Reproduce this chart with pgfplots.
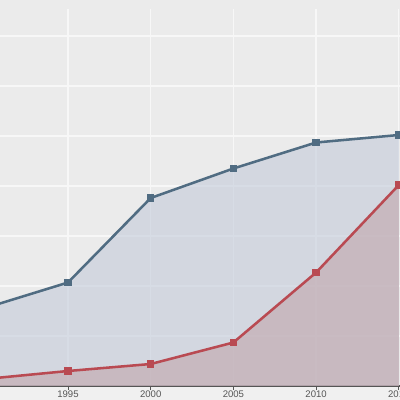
\documentclass[border=0pt]{standalone}
\usepackage{pgfplots}
\pgfplotsset{compat=1.18}
\usepackage{fontspec}
\setmainfont{Liberation Sans}
\definecolor{bgc}{HTML}{EBEBEB}
\definecolor{pagec}{HTML}{F0F0F0}
\definecolor{gridc}{HTML}{F7F7F7}
\definecolor{blueline}{HTML}{506C82}
\definecolor{bluefill}{HTML}{C3CBDA}
\definecolor{redline}{HTML}{B94A52}
\definecolor{redfill}{HTML}{C1A6AC}
\definecolor{tickc}{HTML}{555555}
\begin{document}
\begin{tikzpicture}
\begin{axis}[
  set layers,
  clip mode=individual,
  x=0.4135cm, y=1.25cm,
  xmin=1989, xmax=2016, ymin=0, ymax=7.54,
  axis x line*=bottom, axis y line*=left,
  x axis line style={draw=tickc, line width=0.9pt},
  y axis line style={draw=none},
  xtick={1990,1995,...,2015},
  ytick={0,1,...,7},
  yticklabels={},
  ytick style={draw=none},
  xtick style={draw=tickc, line width=0.5pt},
  tick align=outside, major tick length=2.5pt,
  grid=major,
  major grid style={draw=gridc, line width=0.9pt},
  axis background/.style={fill=bgc},
  xticklabel style={font=\fontsize{6.8}{7}\selectfont, text=tickc, inner sep=0pt, yshift=-1pt},
  /pgf/number format/1000 sep={},
  /pgf/number format/assume math mode=true,
]
\begin{pgfonlayer}{axis background}
 \fill[pagec] (axis cs:1989,-0.6) rectangle (axis cs:2016,0);
 \fill[bgc] (axis cs:1989,7.54) rectangle (axis cs:2016,8);
\end{pgfonlayer}
\addplot[draw=none, fill=bluefill, fill opacity=0.6, forget plot]
  coordinates {(1990,1.56) (1995,2.07) (2000,3.76) (2005,4.35) (2010,4.87) (2015,5.02)} \closedcycle;
\addplot[draw=none, fill=redfill, fill opacity=0.6, forget plot]
  coordinates {(1990,0.14) (1995,0.30) (2000,0.44) (2005,0.87) (2010,2.27) (2015,4.02)} \closedcycle;
\addplot[blueline, line width=1.8pt, mark=square*, mark size=1.7pt]
  coordinates {(1990,1.56) (1995,2.07) (2000,3.76) (2005,4.35) (2010,4.87) (2015,5.02)};
\addplot[redline, line width=1.8pt, mark=square*, mark size=1.7pt]
  coordinates {(1990,0.14) (1995,0.30) (2000,0.44) (2005,0.87) (2010,2.27) (2015,4.02)};
\coordinate (bl) at (axis cs:1990.889,-0.28);
\coordinate (tr) at (axis cs:2015.07,7.72);
\end{axis}
\pgfresetboundingbox
\useasboundingbox (bl) rectangle (tr);
\end{tikzpicture}
\end{document}
